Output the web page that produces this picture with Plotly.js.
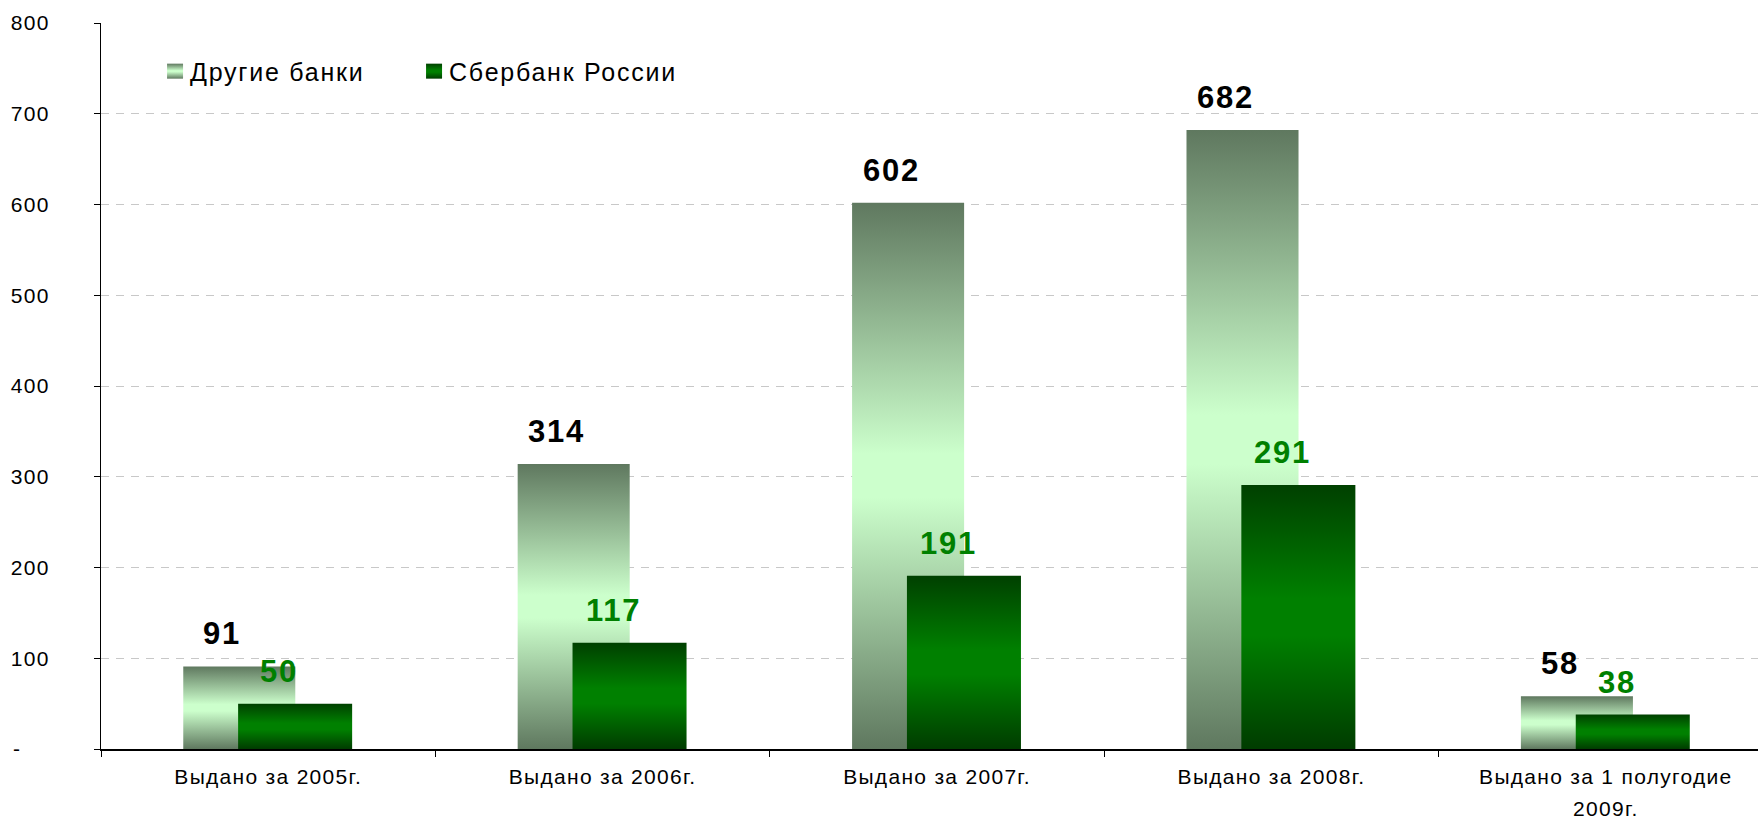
<!DOCTYPE html>
<html><head><meta charset="utf-8">
<script src="https://cdn.plot.ly/plotly-3.0.1.min.js"></script>
<style>
html,body{margin:0;padding:0;overflow:hidden;background:#fff}
#chart{width:1758px;height:820px}
.legendtext{letter-spacing:1.75px}
.xtick text,.ytick text{letter-spacing:1.3px}
.annotation-text{letter-spacing:1.7px;font-weight:700 !important}
</style></head><body><div id="chart"></div>
<script>
const categories = ['Выдано за 2005г.', 'Выдано за 2006г.', 'Выдано за 2007г.', 'Выдано за 2008г.', 'Выдано за 1 полугодие<br>2009г.'];
const otherBanks = [91, 314, 602, 682, 58];
const sberbank = [50, 117, 191, 291, 38];
const seriesNames = ['Другие банки', 'Сбербанк России'];
const yTickVals = [0, 100, 200, 300, 400, 500, 600, 700, 800];
const yTickText = ['-\u00a0\u00a0\u00a0\u00a0', '100', '200', '300', '400', '500', '600', '700', '800'];

const FONT = 'Liberation Sans, Arial, sans-serif';

const traces = [
  {type:'bar', name:seriesNames[0], x:categories, y:otherBanks, offset:-0.254, width:0.335,
   marker:{color:'#9cc49c', line:{width:0}}, hoverinfo:'skip'},
  {type:'bar', name:seriesNames[1], x:categories, y:sberbank, offset:-0.09, width:0.341,
   marker:{color:'#006000', line:{width:0}}, hoverinfo:'skip'}
];

const annotations = [];
categories.forEach((c, i) => {
  annotations.push({x:c, y:otherBanks[i], text:'<b>' + otherBanks[i] + '</b>', showarrow:false,
    xref:'x', yref:'y', yanchor:'bottom', xanchor:'center', xshift:-46, yshift:13,
    font:{family:FONT, size:31, color:'#000000', weight:700}});
  annotations.push({x:c, y:sberbank[i], text:'<b>' + sberbank[i] + '</b>', showarrow:false,
    xref:'x', yref:'y', yanchor:'bottom', xanchor:'center', xshift:11, yshift:13,
    font:{family:FONT, size:31, color:'#008000', weight:700}});
});

const layout = {
  width:1758, height:820,
  margin:{l:101, r:0, t:23, b:71, pad:0},
  paper_bgcolor:'#ffffff', plot_bgcolor:'#ffffff',
  barmode:'overlay',
  showlegend:true,
  legend:{orientation:'h', x:0.0296, y:0.965, xanchor:'left', yanchor:'top',
    entrywidth:214, entrywidthmode:'pixels',
    font:{family:FONT, size:25, color:'#000000'}, bgcolor:'rgba(0,0,0,0)', traceorder:'normal'},
  xaxis:{type:'category', range:[-0.5, 4.455], tickson:'boundaries', ticks:'outside', ticklen:6,
    tickcolor:'#000000', tickwidth:1, showline:true, linecolor:'#000000', linewidth:2,
    showgrid:false, zeroline:false, fixedrange:true, ticklabelstandoff:8,
    tickfont:{family:FONT, size:21, color:'#000000'}},
  yaxis:{range:[0, 800], tickmode:'array', tickvals:yTickVals, ticktext:yTickText,
    ticks:'outside', ticklen:6, tickcolor:'#000000', tickwidth:1,
    showline:true, linecolor:'#000000', linewidth:1,
    showgrid:true, gridcolor:'#c8c8c8', gridwidth:1, griddash:'8px,7px',
    zeroline:false, fixedrange:true, ticklabelstandoff:40,
    tickfont:{family:FONT, size:21, color:'#000000'}},
  annotations:annotations
};

function addGradients(gd) {
  const svg = gd.querySelector('svg.main-svg');
  if (!svg) return;
  const NS = 'http://www.w3.org/2000/svg';
  let defs = svg.querySelector('defs');
  if (!defs) { defs = document.createElementNS(NS, 'defs'); svg.insertBefore(defs, svg.firstChild); }
  const grads = {
    gOther: [[0,'#5f785f'],[0.46,'#ccffcc'],[0.54,'#ccffcc'],[1,'#5f785f']],
    gSber: [[0,'#004000'],[0.43,'#008000'],[0.57,'#008000'],[1,'#003c00']]
  };
  Object.keys(grads).forEach(id => {
    if (defs.querySelector('#' + id)) return;
    const lg = document.createElementNS(NS, 'linearGradient');
    lg.setAttribute('id', id);
    lg.setAttribute('x1', '0'); lg.setAttribute('y1', '0');
    lg.setAttribute('x2', '0'); lg.setAttribute('y2', '1');
    grads[id].forEach(s => {
      const st = document.createElementNS(NS, 'stop');
      st.setAttribute('offset', s[0]);
      st.setAttribute('stop-color', s[1]);
      lg.appendChild(st);
    });
    defs.appendChild(lg);
  });
  const ids = ['gOther', 'gSber'];
  gd.querySelectorAll('.barlayer .trace').forEach((t, i) => {
    t.querySelectorAll('path').forEach(p => { p.style.fill = 'url(#' + ids[i] + ')'; });
  });
  gd.querySelectorAll('.legend .traces').forEach((t, i) => {
    t.querySelectorAll('.legendpoints path').forEach(p => {
      p.style.fill = 'url(#' + ids[i] + ')';
      p.removeAttribute('transform');
      p.setAttribute('d', 'M33,7.5H17V-7.5H33Z');
      p.style.strokeWidth = '0';
    });
  });
  gd.querySelectorAll('.legend [clip-path]').forEach(e => e.removeAttribute('clip-path'));
  gd.querySelectorAll('.xtick text').forEach(t => {
    const lines = t.querySelectorAll('tspan.line');
    lines.forEach((l, k) => { if (k > 0) l.setAttribute('dy', (k * 1.52) + 'em'); });
  });
}

Plotly.newPlot('chart', traces, layout, {displayModeBar:false, staticPlot:true}).then(gd => {
  addGradients(gd);
});
</script></body></html>
